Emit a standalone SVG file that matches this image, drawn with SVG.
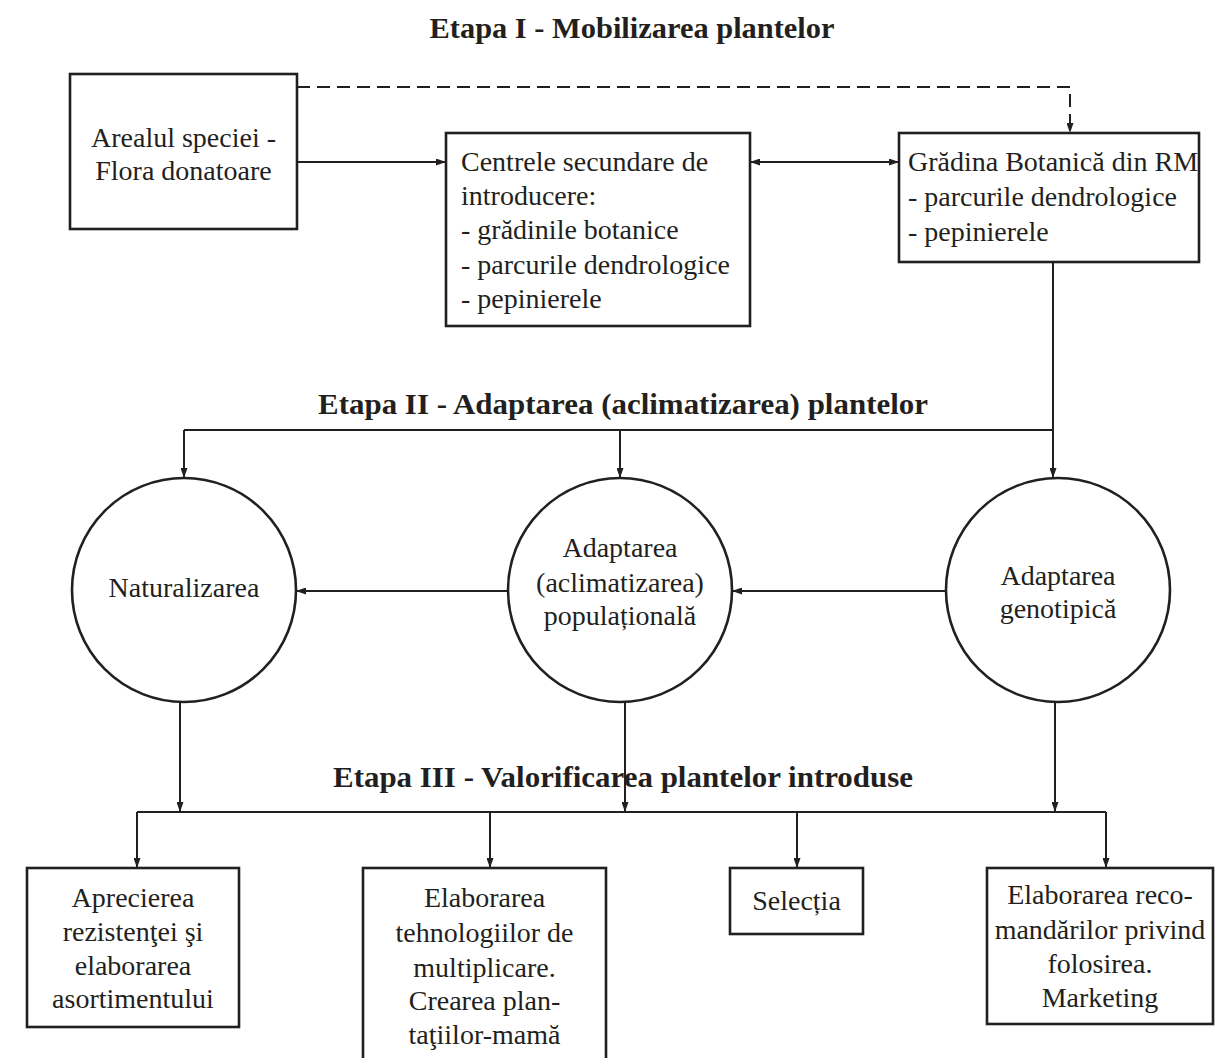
<svg xmlns="http://www.w3.org/2000/svg" width="1224" height="1058" viewBox="0 0 1224 1058">
<style>
  .bg { fill: #ffffff; }
  .box { fill: #ffffff; stroke: #231f20; stroke-width: 2.6; }
  .circ { fill: #ffffff; stroke: #231f20; stroke-width: 2.6; }
  .t { font-family: "Liberation Serif", "Times New Roman", serif; font-size: 28px; fill: #231f20; }
  .c { text-anchor: middle; }
  .title { font-family: "Liberation Serif", "Times New Roman", serif; font-size: 30px; font-weight: bold; fill: #231f20; text-anchor: middle; }
  .ln { fill: none; stroke: #231f20; stroke-width: 2; }
  .arr { marker-end: url(#ah); }
  .dash { stroke-dasharray: 13 7; }
</style>
<defs>
  <marker id="ah" viewBox="0 0 10 7" refX="10" refY="3.5" markerWidth="10" markerHeight="7" markerUnits="userSpaceOnUse" orient="auto-start-reverse">
    <path d="M0,0 L10,3.5 L0,7 z" fill="#231f20"/>
  </marker>
</defs>
<rect class="bg" x="0" y="0" width="1224" height="1058"/>

<g id="titles">
  <text class="title" x="632" y="38" textLength="405" lengthAdjust="spacingAndGlyphs">Etapa I - Mobilizarea plantelor</text>
  <text class="title" x="623" y="414" textLength="610" lengthAdjust="spacingAndGlyphs">Etapa II - Adaptarea (aclimatizarea) plantelor</text>
  <text class="title" x="623" y="787" textLength="580" lengthAdjust="spacingAndGlyphs">Etapa III - Valorificarea plantelor introduse</text>
</g>

<g id="connectors">
  <path class="ln dash arr" d="M297,87 H1070 V133"/>
  <path class="ln arr" d="M297,162 H446"/>
  <path class="ln arr" d="M750,162 H899" marker-start="url(#ah)"/>
  <path class="ln arr" d="M1053,262 V478"/>
  <path class="ln" d="M184,430 H1053"/>
  <path class="ln arr" d="M184,430 V478"/>
  <path class="ln arr" d="M620,430 V478"/>
  <path class="ln arr" d="M946,591 H732"/>
  <path class="ln arr" d="M508,591 H296"/>
  <path class="ln arr" d="M180,702 V812"/>
  <path class="ln arr" d="M625,702 V812"/>
  <path class="ln arr" d="M1055,702 V812"/>
  <path class="ln" d="M137,812 H1106"/>
  <path class="ln arr" d="M137,812 V868"/>
  <path class="ln arr" d="M490,812 V868"/>
  <path class="ln arr" d="M797,812 V868"/>
  <path class="ln arr" d="M1106,812 V868"/>
</g>

<g id="node-areal">
  <rect class="box" x="70" y="74" width="227" height="155"/>
  <text class="t c" x="183.5" y="147">Arealul speciei -</text>
  <text class="t c" x="183.5" y="180">Flora donatoare</text>
</g>

<g id="node-centrele">
  <rect class="box" x="446" y="133" width="304" height="193"/>
  <text class="t" x="461" y="171">Centrele secundare de</text>
  <text class="t" x="461" y="205">introducere:</text>
  <text class="t" x="461" y="239">- grădinile botanice</text>
  <text class="t" x="461" y="274">- parcurile dendrologice</text>
  <text class="t" x="461" y="308">- pepinierele</text>
</g>

<g id="node-gradina">
  <rect class="box" x="899" y="133" width="300" height="129"/>
  <text class="t" x="908" y="171">Grădina Botanică din RM</text>
  <text class="t" x="908" y="206">- parcurile dendrologice</text>
  <text class="t" x="908" y="241">- pepinierele</text>
</g>

<g id="node-naturalizarea">
  <circle class="circ" cx="184" cy="590" r="112"/>
  <text class="t c" x="184" y="597">Naturalizarea</text>
</g>

<g id="node-populationala">
  <circle class="circ" cx="620" cy="590" r="112"/>
  <text class="t c" x="620" y="557">Adaptarea</text>
  <text class="t c" x="620" y="592">(aclimatizarea)</text>
  <text class="t c" x="620" y="625">populațională</text>
</g>

<g id="node-genotipica">
  <circle class="circ" cx="1058" cy="590" r="112"/>
  <text class="t c" x="1058" y="585">Adaptarea</text>
  <text class="t c" x="1058" y="618">genotipică</text>
</g>

<g id="node-aprecierea">
  <rect class="box" x="27" y="868" width="212" height="159"/>
  <text class="t c" x="133" y="907">Aprecierea</text>
  <text class="t c" x="133" y="941">rezistenţei şi</text>
  <text class="t c" x="133" y="975">elaborarea</text>
  <text class="t c" x="133" y="1008">asortimentului</text>
</g>

<g id="node-tehnologii">
  <rect class="box" x="363" y="868" width="243" height="210"/>
  <text class="t c" x="484.5" y="907">Elaborarea</text>
  <text class="t c" x="484.5" y="942">tehnologiilor de</text>
  <text class="t c" x="484.5" y="977">multiplicare.</text>
  <text class="t c" x="484.5" y="1010">Crearea plan-</text>
  <text class="t c" x="484.5" y="1044">taţiilor-mamă</text>
</g>

<g id="node-selectia">
  <rect class="box" x="730" y="868" width="133" height="66"/>
  <text class="t c" x="796.5" y="910">Selecția</text>
</g>

<g id="node-recomandari">
  <rect class="box" x="987" y="868" width="226" height="156"/>
  <text class="t c" x="1100" y="904">Elaborarea reco-</text>
  <text class="t c" x="1100" y="939">mandărilor privind</text>
  <text class="t c" x="1100" y="973">folosirea.</text>
  <text class="t c" x="1100" y="1007">Marketing</text>
</g>
</svg>
